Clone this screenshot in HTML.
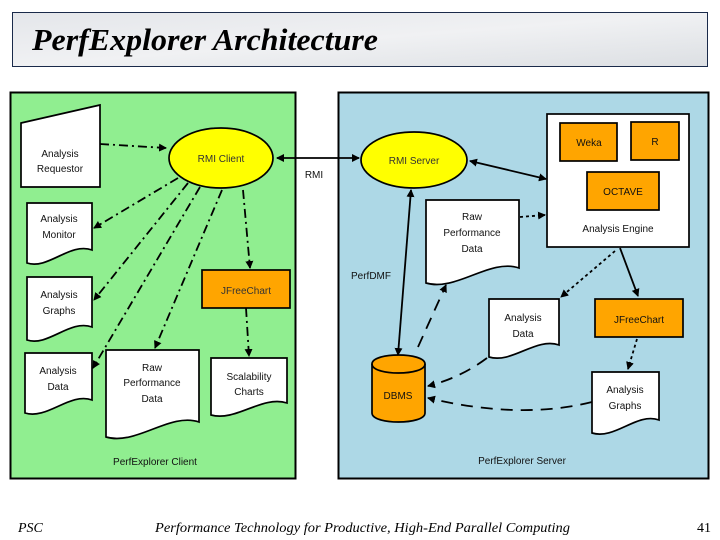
<!DOCTYPE html>
<html><head><meta charset="utf-8"><style>
body{margin:0;width:720px;height:540px;background:#fff;overflow:hidden;font-family:"Liberation Sans",sans-serif}
</style></head><body>
<svg width="720" height="540" xmlns="http://www.w3.org/2000/svg" style="position:absolute;left:0;top:0">
<defs>
<linearGradient id="mb" x1="0" y1="0" x2="1" y2="1"><stop offset="0" stop-color="#e4e6ea"/><stop offset=".5" stop-color="#f0f1f3"/><stop offset="1" stop-color="#dcdfe3"/></linearGradient>
<marker id="a" markerWidth="8" markerHeight="8" refX="7" refY="4" orient="auto" markerUnits="userSpaceOnUse"><path d="M0,0 L8,4 L0,8 z" fill="#000"/></marker>
<marker id="s" markerWidth="8" markerHeight="8" refX="1" refY="4" orient="auto" markerUnits="userSpaceOnUse"><path d="M8,0 L0,4 L8,8 z" fill="#000"/></marker>
</defs>
<rect x="12.5" y="12.5" width="695" height="54" fill="url(#mb)" stroke="#1a2a4a"/>
<text x="32" y="50" font-family="Liberation Serif,serif" font-style="italic" font-weight="bold" font-size="31" fill="#000" textLength="346" lengthAdjust="spacingAndGlyphs">PerfExplorer Architecture</text>

<rect x="10.5" y="92.5" width="285" height="386" fill="#90ee90" stroke="#000" stroke-width="2"/>
<rect x="338.5" y="92.5" width="370" height="386" fill="#add8e6" stroke="#000" stroke-width="2"/>

<g stroke="#000" stroke-width="1.7" fill="#fff">
<path d="M21,123 L100,105 L100,187 L21,187 Z"/>
<path d="M27,203 H92 V250 C70,242 48,270 27,263 Z"/>
<path d="M27,277 H92 V327 C70,319 48,347 27,340 Z"/>
<path d="M25,353 H92 V400 C70,392 47,420 25,413 Z"/>
<path d="M106,350 H199 V422 C170,412 136,446 106,437 Z"/>
<path d="M211,358 H287 V403 C262,395 236,422 211,415 Z"/>
<path d="M426,200 H519 V268 C490,258 456,292 426,283 Z"/>
<path d="M489,299 H559 V345 C536,337 512,364 489,357 Z"/>
<path d="M592,372 H659 V420 C637,412 615,440 592,433 Z"/>
<rect x="547" y="114" width="142" height="133"/>
</g>
<g stroke="#000" stroke-width="1.7" fill="#ffff00">
<ellipse cx="221" cy="158" rx="52" ry="30"/>
<ellipse cx="414" cy="160" rx="53" ry="28"/>
</g>
<g stroke="#000" stroke-width="1.7" fill="#ffa500">
<rect x="202" y="270" width="88" height="38"/>
<rect x="560" y="123" width="57" height="38"/>
<rect x="631" y="122" width="48" height="38"/>
<rect x="587" y="172" width="72" height="38"/>
<rect x="595" y="299" width="88" height="38"/>
<path d="M372,364 C372,352 425,352 425,364 V413 C425,425 372,425 372,413 Z"/>
<path d="M372,364 C372,376 425,376 425,364" fill="none"/>
</g>

<g stroke="#000" stroke-width="1.8" fill="none">
<g stroke-dasharray="9,4,2,4">
<line x1="100" y1="144" x2="166" y2="148" marker-end="url(#a)"/>
<line x1="178" y1="178" x2="94" y2="228" marker-end="url(#a)"/>
<line x1="188" y1="183" x2="94" y2="300" marker-end="url(#a)"/>
<line x1="200" y1="187" x2="93" y2="368" marker-end="url(#a)"/>
<line x1="222" y1="190" x2="155" y2="348" marker-end="url(#a)"/>
<line x1="243" y1="190" x2="250" y2="268" marker-end="url(#a)"/>
<line x1="246" y1="308" x2="249" y2="356" marker-end="url(#a)"/>
</g>
<line x1="277" y1="158" x2="359" y2="158" marker-start="url(#s)" marker-end="url(#a)"/>
<line x1="470" y1="161" x2="546" y2="179" marker-start="url(#s)" marker-end="url(#a)"/>
<line x1="411" y1="190" x2="398" y2="355" marker-start="url(#s)" marker-end="url(#a)"/>
<line x1="620" y1="248" x2="638" y2="296" marker-end="url(#a)"/>
<g stroke-dasharray="3,3">
<line x1="520" y1="217" x2="545" y2="215" marker-end="url(#a)"/>
<line x1="615" y1="251" x2="561" y2="297" marker-end="url(#a)"/>
<line x1="637" y1="339" x2="628" y2="369" marker-end="url(#a)"/>
</g>
<g stroke-dasharray="12,8">
<line x1="418" y1="347" x2="446" y2="285" marker-end="url(#a)"/>
<path d="M487,358 Q460,378 428,386" marker-end="url(#a)"/>
<path d="M592,402 Q520,420 428,398" marker-end="url(#a)"/>
</g>
</g>

<g font-size="10" fill="#111" text-anchor="middle">
<text x="60" y="157">Analysis</text><text x="60" y="172">Requestor</text>
<text x="221" y="162" fill="#333">RMI Client</text>
<text x="59" y="222">Analysis</text><text x="59" y="238">Monitor</text>
<text x="59" y="298">Analysis</text><text x="59" y="314">Graphs</text>
<text x="58" y="374">Analysis</text><text x="58" y="390">Data</text>
<text x="152" y="371">Raw</text><text x="152" y="386">Performance</text><text x="152" y="402">Data</text>
<text x="246" y="294" fill="#333">JFreeChart</text>
<text x="249" y="380">Scalability</text><text x="249" y="395">Charts</text>
<text x="155" y="465">PerfExplorer Client</text>
<text x="314" y="178">RMI</text>
<text x="414" y="164" fill="#333">RMI Server</text>
<text x="589" y="146">Weka</text>
<text x="655" y="145">R</text>
<text x="623" y="195">OCTAVE</text>
<text x="618" y="232">Analysis Engine</text>
<text x="472" y="220">Raw</text><text x="472" y="236">Performance</text><text x="472" y="252">Data</text>
<text x="371" y="279">PerfDMF</text>
<text x="523" y="321">Analysis</text><text x="523" y="337">Data</text>
<text x="639" y="323">JFreeChart</text>
<text x="625" y="393">Analysis</text><text x="625" y="409">Graphs</text>
<text x="398" y="399">DBMS</text>
<text x="522" y="464">PerfExplorer Server</text>
</g>

<g font-family="Liberation Serif,serif" font-style="italic" font-size="14" fill="#000">
<text x="18" y="532">PSC</text>
<text x="155" y="532" textLength="415" lengthAdjust="spacingAndGlyphs">Performance Technology for Productive, High-End Parallel Computing</text>
<text x="697" y="532" font-style="normal">41</text>
</g>
</svg>
</body></html>
